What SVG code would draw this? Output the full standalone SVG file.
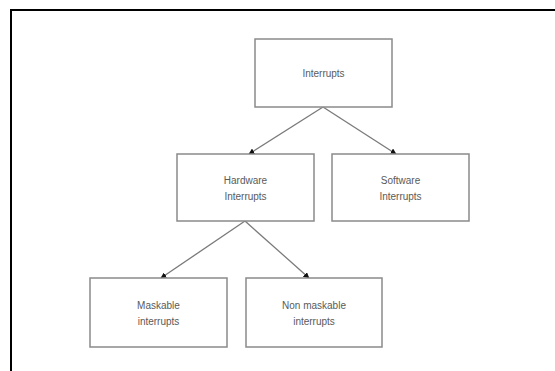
<svg xmlns="http://www.w3.org/2000/svg" width="555" height="371" viewBox="0 0 555 371">
<defs>
<style>
.box{fill:#fff;stroke:#8a8a8a;stroke-width:1.5}
.lbl{font-family:"Liberation Sans",Arial,sans-serif;font-size:10px;fill:#5a5a5a;text-anchor:middle}
.edge{stroke:#7a7a7a;stroke-width:1.3;fill:none}
</style>
<marker id="ah" viewBox="0 0 10 10" refX="9" refY="5" markerWidth="6" markerHeight="6" orient="auto" markerUnits="userSpaceOnUse">
<path d="M0,0 L10,5 L0,10 z" fill="#111"/>
</marker>
</defs>
<rect x="0" y="0" width="555" height="371" fill="#fff"/>
<rect x="11" y="10" width="560" height="380" fill="none" stroke="#000" stroke-width="2"/>
<g id="connectors">
<line class="edge" x1="323" y1="107" x2="249" y2="154" marker-end="url(#ah)"/>
<line class="edge" x1="323" y1="107" x2="396" y2="154" marker-end="url(#ah)"/>
<line class="edge" x1="245" y1="221" x2="161" y2="278" marker-end="url(#ah)"/>
<line class="edge" x1="245" y1="221" x2="309" y2="278" marker-end="url(#ah)"/>
</g>
<g id="node-interrupts">
<rect class="box" x="255" y="39" width="137" height="68"/>
<text class="lbl" x="323.5" y="77">Interrupts</text>
</g>
<g id="node-hardware">
<rect class="box" x="177" y="154" width="137" height="67"/>
<text class="lbl" x="245.5" y="184">Hardware</text>
<text class="lbl" x="245.5" y="200">Interrupts</text>
</g>
<g id="node-software">
<rect class="box" x="332" y="154" width="137" height="67"/>
<text class="lbl" x="400.5" y="184">Software</text>
<text class="lbl" x="400.5" y="200">Interrupts</text>
</g>
<g id="node-maskable">
<rect class="box" x="90" y="278" width="137" height="69"/>
<text class="lbl" x="158.5" y="309">Maskable</text>
<text class="lbl" x="158.5" y="325">interrupts</text>
</g>
<g id="node-nonmaskable">
<rect class="box" x="246" y="278" width="136" height="69"/>
<text class="lbl" x="314" y="309">Non maskable</text>
<text class="lbl" x="314" y="325">interrupts</text>
</g>
</svg>
